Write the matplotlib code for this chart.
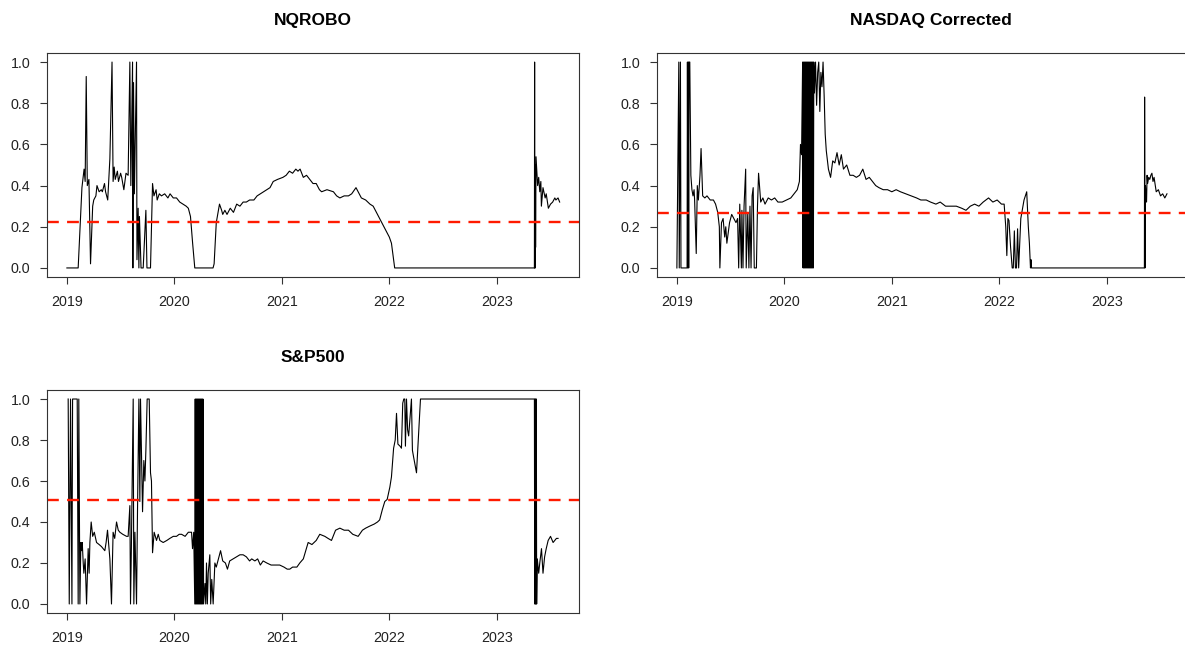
import numpy as np
import matplotlib.pyplot as plt

plt.rcParams['font.family'] = ['Liberation Sans', 'DejaVu Sans']

titles = ['NQROBO', 'NASDAQ Corrected', 'S&P500']
year_ticks = [2019, 2020, 2021, 2022, 2023]
value_ticks = [0.0, 0.2, 0.4, 0.6, 0.8, 1.0]
thresholds = [0.223, 0.268, 0.507]

# (decimal year, value)
nqrobo = [
    (2019.000, 0.00), (2019.105, 0.00), (2019.125, 0.22), (2019.140, 0.39), (2019.160, 0.48),
    (2019.170, 0.42), (2019.180, 0.93), (2019.190, 0.40), (2019.205, 0.43), (2019.220, 0.02),
    (2019.240, 0.30), (2019.250, 0.33), (2019.270, 0.35), (2019.280, 0.40), (2019.300, 0.37),
    (2019.320, 0.38), (2019.330, 0.37), (2019.350, 0.41), (2019.360, 0.37), (2019.380, 0.33),
    (2019.400, 0.53), (2019.420, 1.00), (2019.430, 0.42), (2019.440, 0.49), (2019.450, 0.43),
    (2019.470, 0.47), (2019.480, 0.42), (2019.500, 0.46), (2019.510, 0.44), (2019.530, 0.38),
    (2019.550, 0.46), (2019.570, 0.45), (2019.586, 1.00), (2019.595, 0.40), (2019.611, 1.00),
    (2019.614, 0.00), (2019.620, 0.90), (2019.628, 0.36), (2019.648, 1.00), (2019.652, 0.04),
    (2019.663, 0.29), (2019.670, 0.00), (2019.675, 0.25), (2019.690, 0.00), (2019.710, 0.00),
    (2019.735, 0.28), (2019.745, 0.00), (2019.778, 0.00), (2019.797, 0.41), (2019.810, 0.35),
    (2019.830, 0.38), (2019.840, 0.33), (2019.860, 0.36), (2019.880, 0.35), (2019.910, 0.36),
    (2019.940, 0.34), (2019.960, 0.36), (2019.990, 0.34), (2020.020, 0.34), (2020.050, 0.32),
    (2020.080, 0.31), (2020.110, 0.30), (2020.130, 0.29), (2020.150, 0.25), (2020.170, 0.12),
    (2020.190, 0.00), (2020.360, 0.00), (2020.370, 0.02), (2020.390, 0.22), (2020.420, 0.31),
    (2020.440, 0.28), (2020.450, 0.26), (2020.470, 0.28), (2020.490, 0.26), (2020.520, 0.29),
    (2020.550, 0.27), (2020.580, 0.31), (2020.610, 0.30), (2020.640, 0.32), (2020.670, 0.32),
    (2020.700, 0.33), (2020.740, 0.33), (2020.770, 0.35), (2020.800, 0.36), (2020.830, 0.37),
    (2020.860, 0.38), (2020.890, 0.39), (2020.920, 0.42), (2020.960, 0.43), (2021.010, 0.44),
    (2021.040, 0.45), (2021.070, 0.47), (2021.100, 0.46), (2021.130, 0.48), (2021.150, 0.47),
    (2021.170, 0.48), (2021.200, 0.44), (2021.230, 0.45), (2021.260, 0.43), (2021.290, 0.41),
    (2021.320, 0.41), (2021.350, 0.38), (2021.370, 0.37), (2021.420, 0.38), (2021.480, 0.37),
    (2021.510, 0.35), (2021.540, 0.34), (2021.580, 0.35), (2021.620, 0.35), (2021.650, 0.36),
    (2021.690, 0.39), (2021.720, 0.36), (2021.740, 0.34), (2021.780, 0.33), (2021.820, 0.31),
    (2021.850, 0.30), (2021.880, 0.27), (2021.910, 0.24), (2021.930, 0.22), (2021.950, 0.20),
    (2021.970, 0.18), (2022.000, 0.15), (2022.020, 0.12), (2022.050, 0.00), (2023.350, 0.00),
    (2023.352, 1.00), (2023.354, 0.00), (2023.356, 0.17), (2023.357, 0.00), (2023.359, 0.50),
    (2023.361, 0.10), (2023.365, 0.54), (2023.380, 0.40), (2023.390, 0.44), (2023.400, 0.37),
    (2023.410, 0.42), (2023.415, 0.30), (2023.430, 0.39), (2023.450, 0.34), (2023.460, 0.36),
    (2023.480, 0.29), (2023.500, 0.31), (2023.520, 0.32), (2023.540, 0.34), (2023.550, 0.33),
    (2023.570, 0.34), (2023.585, 0.32),
]

nasdaq = [
    (2019.000, 0.00), (2019.018, 1.00), (2019.022, 0.00), (2019.033, 1.00), (2019.038, 0.00),
    (2019.095, 0.00), (2019.098, 1.00), (2019.102, 0.00), (2019.106, 1.00), (2019.110, 0.00),
    (2019.113, 1.00), (2019.120, 1.00), (2019.130, 0.45), (2019.140, 0.38), (2019.150, 0.35),
    (2019.160, 0.38), (2019.165, 0.33), (2019.180, 0.07), (2019.190, 0.40), (2019.200, 0.33),
    (2019.215, 0.45), (2019.225, 0.58), (2019.240, 0.35), (2019.260, 0.34), (2019.280, 0.35),
    (2019.310, 0.33), (2019.340, 0.33), (2019.360, 0.31), (2019.380, 0.27), (2019.395, 0.20),
    (2019.400, 0.00), (2019.415, 0.22), (2019.430, 0.24), (2019.445, 0.15), (2019.455, 0.20),
    (2019.465, 0.12), (2019.490, 0.22), (2019.510, 0.26), (2019.530, 0.24), (2019.550, 0.22),
    (2019.565, 0.24), (2019.575, 0.00), (2019.585, 0.31), (2019.600, 0.00), (2019.605, 0.28),
    (2019.615, 0.00), (2019.625, 0.30), (2019.640, 0.48), (2019.645, 0.00), (2019.660, 0.27),
    (2019.670, 0.00), (2019.680, 0.30), (2019.690, 0.00), (2019.700, 0.35), (2019.710, 0.39),
    (2019.720, 0.00), (2019.740, 0.00), (2019.750, 0.30), (2019.760, 0.46), (2019.780, 0.32),
    (2019.800, 0.34), (2019.820, 0.31), (2019.850, 0.34), (2019.880, 0.33), (2019.910, 0.34),
    (2019.940, 0.32), (2019.980, 0.32), (2020.020, 0.33), (2020.060, 0.34), (2020.090, 0.36),
    (2020.120, 0.38), (2020.140, 0.42), (2020.150, 0.60), (2020.160, 0.55), (2020.170, 1.00),
    (2020.174, 0.00), (2020.178, 1.00), (2020.182, 0.00), (2020.186, 1.00), (2020.190, 0.00),
    (2020.194, 1.00), (2020.198, 0.00), (2020.202, 1.00), (2020.206, 0.00), (2020.210, 1.00),
    (2020.214, 0.00), (2020.218, 1.00), (2020.222, 0.00), (2020.226, 1.00), (2020.230, 0.00),
    (2020.234, 1.00), (2020.238, 0.00), (2020.242, 1.00), (2020.246, 0.00), (2020.250, 1.00),
    (2020.254, 0.00), (2020.258, 1.00), (2020.262, 0.00), (2020.266, 1.00), (2020.270, 0.00),
    (2020.274, 1.00), (2020.280, 0.85), (2020.290, 1.00), (2020.300, 0.79), (2020.310, 0.95),
    (2020.320, 1.00), (2020.330, 0.76), (2020.340, 0.95), (2020.350, 0.88), (2020.360, 1.00),
    (2020.370, 0.84), (2020.380, 0.65), (2020.390, 0.57), (2020.410, 0.48), (2020.430, 0.44),
    (2020.450, 0.52), (2020.470, 0.51), (2020.490, 0.56), (2020.510, 0.50), (2020.530, 0.55),
    (2020.550, 0.48), (2020.580, 0.50), (2020.610, 0.45), (2020.640, 0.45), (2020.670, 0.44),
    (2020.700, 0.45), (2020.730, 0.48), (2020.760, 0.43), (2020.790, 0.44), (2020.820, 0.42),
    (2020.850, 0.40), (2020.880, 0.39), (2020.920, 0.38), (2020.960, 0.38), (2021.000, 0.37),
    (2021.040, 0.38), (2021.080, 0.37), (2021.130, 0.36), (2021.180, 0.35), (2021.230, 0.34),
    (2021.270, 0.33), (2021.320, 0.33), (2021.360, 0.32), (2021.410, 0.31), (2021.450, 0.32),
    (2021.500, 0.30), (2021.550, 0.30), (2021.600, 0.30), (2021.650, 0.29), (2021.690, 0.28),
    (2021.730, 0.30), (2021.770, 0.31), (2021.810, 0.30), (2021.850, 0.32), (2021.900, 0.34),
    (2021.940, 0.32), (2021.980, 0.33), (2022.020, 0.31), (2022.045, 0.31), (2022.060, 0.20),
    (2022.070, 0.06), (2022.080, 0.24), (2022.090, 0.23), (2022.105, 0.10), (2022.120, 0.00),
    (2022.130, 0.00), (2022.140, 0.18), (2022.150, 0.00), (2022.160, 0.00), (2022.170, 0.19),
    (2022.180, 0.00), (2022.200, 0.24), (2022.230, 0.33), (2022.255, 0.37), (2022.270, 0.20),
    (2022.280, 0.12), (2022.290, 0.00), (2022.295, 0.04), (2022.300, 0.00), (2023.350, 0.00),
    (2023.352, 0.83), (2023.356, 0.00), (2023.360, 0.40), (2023.370, 0.32), (2023.375, 0.45),
    (2023.380, 0.41), (2023.390, 0.44), (2023.400, 0.43), (2023.410, 0.45), (2023.420, 0.46),
    (2023.430, 0.42), (2023.440, 0.44), (2023.460, 0.37), (2023.480, 0.38), (2023.500, 0.35),
    (2023.520, 0.36), (2023.540, 0.34), (2023.560, 0.36),
]

sp500 = [
    (2019.012, 1.00), (2019.022, 0.00), (2019.034, 1.00), (2019.047, 0.00), (2019.053, 1.00),
    (2019.096, 1.00), (2019.105, 0.00), (2019.111, 1.00), (2019.121, 0.00), (2019.130, 0.30),
    (2019.137, 0.26), (2019.143, 0.30), (2019.152, 0.20), (2019.158, 0.15), (2019.170, 0.22),
    (2019.183, 0.00), (2019.198, 0.27), (2019.207, 0.15), (2019.214, 0.30), (2019.226, 0.40),
    (2019.240, 0.33), (2019.255, 0.35), (2019.276, 0.30), (2019.300, 0.29), (2019.322, 0.28),
    (2019.353, 0.26), (2019.365, 0.30), (2019.378, 0.36), (2019.400, 0.22), (2019.415, 0.00),
    (2019.430, 0.35), (2019.445, 0.32), (2019.462, 0.40), (2019.478, 0.36), (2019.493, 0.35),
    (2019.520, 0.34), (2019.555, 0.33), (2019.570, 0.33), (2019.586, 0.48), (2019.592, 0.00),
    (2019.600, 0.27), (2019.617, 1.00), (2019.623, 0.00), (2019.633, 0.35), (2019.648, 0.00),
    (2019.657, 0.45), (2019.670, 1.00), (2019.679, 0.50), (2019.685, 1.00), (2019.704, 0.45),
    (2019.716, 0.70), (2019.726, 0.60), (2019.735, 0.75), (2019.747, 1.00), (2019.766, 1.00),
    (2019.778, 0.64), (2019.787, 0.60), (2019.797, 0.25), (2019.812, 0.35), (2019.834, 0.31),
    (2019.850, 0.34), (2019.865, 0.31), (2019.896, 0.30), (2019.930, 0.31), (2019.958, 0.32),
    (2019.990, 0.33), (2020.020, 0.33), (2020.045, 0.34), (2020.067, 0.34), (2020.100, 0.33),
    (2020.130, 0.35), (2020.160, 0.35), (2020.169, 0.27), (2020.180, 0.35), (2020.190, 0.00),
    (2020.194, 1.00), (2020.198, 0.00), (2020.202, 1.00), (2020.206, 0.00), (2020.210, 1.00),
    (2020.214, 0.00), (2020.218, 1.00), (2020.222, 0.00), (2020.226, 1.00), (2020.230, 0.00),
    (2020.234, 1.00), (2020.238, 0.00), (2020.242, 1.00), (2020.246, 0.00), (2020.250, 1.00),
    (2020.254, 0.00), (2020.258, 1.00), (2020.262, 0.00), (2020.266, 1.00), (2020.272, 0.00),
    (2020.285, 0.10), (2020.292, 0.00), (2020.299, 0.20), (2020.307, 0.00), (2020.315, 0.15),
    (2020.330, 0.24), (2020.338, 0.00), (2020.348, 0.12), (2020.361, 0.00), (2020.377, 0.20),
    (2020.390, 0.18), (2020.410, 0.22), (2020.430, 0.26), (2020.450, 0.21), (2020.475, 0.20),
    (2020.494, 0.17), (2020.515, 0.21), (2020.547, 0.22), (2020.580, 0.23), (2020.610, 0.24),
    (2020.640, 0.24), (2020.670, 0.23), (2020.700, 0.21), (2020.720, 0.22), (2020.749, 0.21),
    (2020.775, 0.22), (2020.800, 0.19), (2020.826, 0.21), (2020.860, 0.20), (2020.900, 0.19),
    (2020.940, 0.19), (2020.980, 0.19), (2021.020, 0.18), (2021.050, 0.17), (2021.074, 0.17),
    (2021.100, 0.18), (2021.140, 0.18), (2021.167, 0.20), (2021.200, 0.22), (2021.245, 0.30),
    (2021.280, 0.29), (2021.320, 0.31), (2021.353, 0.34), (2021.400, 0.33), (2021.430, 0.32),
    (2021.462, 0.31), (2021.500, 0.36), (2021.540, 0.37), (2021.580, 0.36), (2021.620, 0.36),
    (2021.660, 0.34), (2021.710, 0.33), (2021.750, 0.36), (2021.780, 0.37), (2021.818, 0.38),
    (2021.860, 0.39), (2021.890, 0.40), (2021.910, 0.41), (2021.935, 0.46), (2021.958, 0.50),
    (2021.980, 0.51), (2022.005, 0.57), (2022.020, 0.62), (2022.040, 0.76), (2022.055, 0.80),
    (2022.067, 0.93), (2022.080, 0.78), (2022.100, 0.77), (2022.113, 0.76), (2022.125, 0.98),
    (2022.135, 1.00), (2022.144, 1.00), (2022.150, 0.77), (2022.160, 1.00), (2022.170, 0.85),
    (2022.180, 0.82), (2022.206, 1.00), (2022.215, 0.75), (2022.225, 0.72), (2022.253, 0.64),
    (2022.277, 0.88), (2022.290, 1.00), (2022.300, 1.00), (2023.350, 1.00), (2023.353, 0.00),
    (2023.356, 1.00), (2023.359, 0.00), (2023.362, 1.00), (2023.365, 0.00), (2023.368, 1.00),
    (2023.371, 0.00), (2023.377, 0.22), (2023.390, 0.15), (2023.400, 0.20), (2023.416, 0.27),
    (2023.430, 0.15), (2023.445, 0.23), (2023.460, 0.27), (2023.478, 0.31), (2023.500, 0.33),
    (2023.524, 0.30), (2023.540, 0.31), (2023.555, 0.32), (2023.570, 0.32),
]

W, H = 1185, 648
fig = plt.figure(figsize=(W / 100, H / 100), dpi=100)

# axes boxes in pixels: left, top, width, height
boxes = [(47, 53, 532, 224), (657, 53, 532, 224), (47, 390, 532, 223)]
title_x = [0.5, 0.515, 0.5]
series = [nqrobo, nasdaq, sp500]

for (l, t, w, h), data, title, thr, tx in zip(boxes, series, titles, thresholds, title_x):
    ax = fig.add_axes([l / W, 1 - (t + h) / H, w / W, h / H])
    x, y = np.array(data).T
    ax.plot(x, y, color='black', lw=0.8)
    ax.axhline(thr, color='#ff1a00', lw=1.7, ls=(0, (5, 3.5)))
    ax.set_xlim(2018.815, 2023.765)
    ax.set_ylim(-0.044, 1.044)
    ax.set_xticks(year_ticks)
    ax.set_xticklabels([str(v) for v in year_ticks])
    ax.set_yticks(value_ticks)
    ax.set_yticklabels(['%.1f' % v for v in value_ticks])
    ax.tick_params(direction='out', length=5, width=0.8, labelsize=10.3,
                   color='#333333', labelcolor='#222222')
    ax.tick_params(axis='y', pad=7)
    ax.tick_params(axis='x', pad=8)
    for s in ax.spines.values():
        s.set_color('#333333')
        s.set_linewidth(0.8)
    ax.set_title(title, fontsize=12.5, fontweight='bold', pad=20, x=tx)

fig.savefig('out.png', dpi=100)
